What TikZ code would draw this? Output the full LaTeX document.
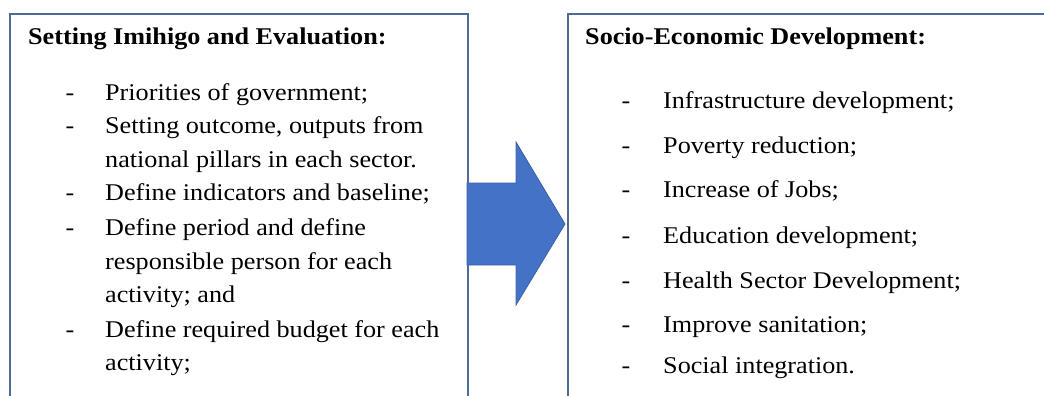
\documentclass[tikz,border=0pt]{standalone}
\usepackage{fontspec}
\setmainfont[FakeStretch=1.09]{Liberation Serif}
\begin{document}
\begin{tikzpicture}[x=1pt,y=-1pt,
  frame/.style={draw=boxline,line width=2pt},
  heading/.style={anchor=base west,inner sep=0pt,font=\fontsize{24}{24}\selectfont\bfseries},
  item/.style={anchor=base west,inner sep=0pt,font=\fontsize{24}{24}\selectfont},
  dashmark/.style={anchor=base,inner sep=0pt,font=\fontsize{24}{24}\selectfont}]
\definecolor{boxline}{HTML}{4F6A96}
\definecolor{arrowfill}{HTML}{4472C4}
\definecolor{arrowedge}{HTML}{3A62A8}
\useasboundingbox (0,0) rectangle (1044,396);
\clip (0,0) rectangle (1044,396);

% the two frames run past the lower (and right) edge
\draw[frame] (10,410) -- (10,14) -- (468,14) -- (468,410);
\draw[frame] (568,410) -- (568,14) -- (1060,14);

% block arrow between the frames
\filldraw[fill=arrowfill,draw=arrowedge,line width=0.8pt]
  (467,183) -- (516,183) -- (516,142) -- (565,224) -- (516,305) -- (516,265) -- (467,265) -- cycle;

% left frame text
\node[heading] (lt) at (28,45) {Setting Imihigo and Evaluation:};
\foreach \y in {100,133,200,235,337}
  \node[dashmark] at (70,\y) {-};
\node[item] (l1) at (105,100) {Priorities of government;};
\node[item] (l2) at (105,133) {Setting outcome, outputs from};
\node[item] (l3) at (105,167) {national pillars in each sector.};
\node[item] (l4) at (105,200) {Define indicators and baseline;};
\node[item] (l5) at (105,235) {Define period and define};
\node[item] (l6) at (105,269) {responsible person for each};
\node[item] (l7) at (105,302) {activity; and};
\node[item] (l8) at (105,337) {Define required budget for each};
\node[item] (l9) at (105,370) {activity;};

% right frame text
\node[heading] (rt) at (585,45) {Socio-Economic Development:};
\foreach \y in {108,153,197,243,288,332,373}
  \node[dashmark] at (626,\y) {-};
\node[item] (r1) at (663,108) {Infrastructure development;};
\node[item] (r2) at (663,153) {Poverty reduction;};
\node[item] (r3) at (663,197) {Increase of Jobs;};
\node[item] (r4) at (663,243) {Education development;};
\node[item] (r5) at (663,288) {Health Sector Development;};
\node[item] (r6) at (663,332) {Improve sanitation;};
\node[item] (r7) at (663,373) {Social integration.};
\end{tikzpicture}
\end{document}
